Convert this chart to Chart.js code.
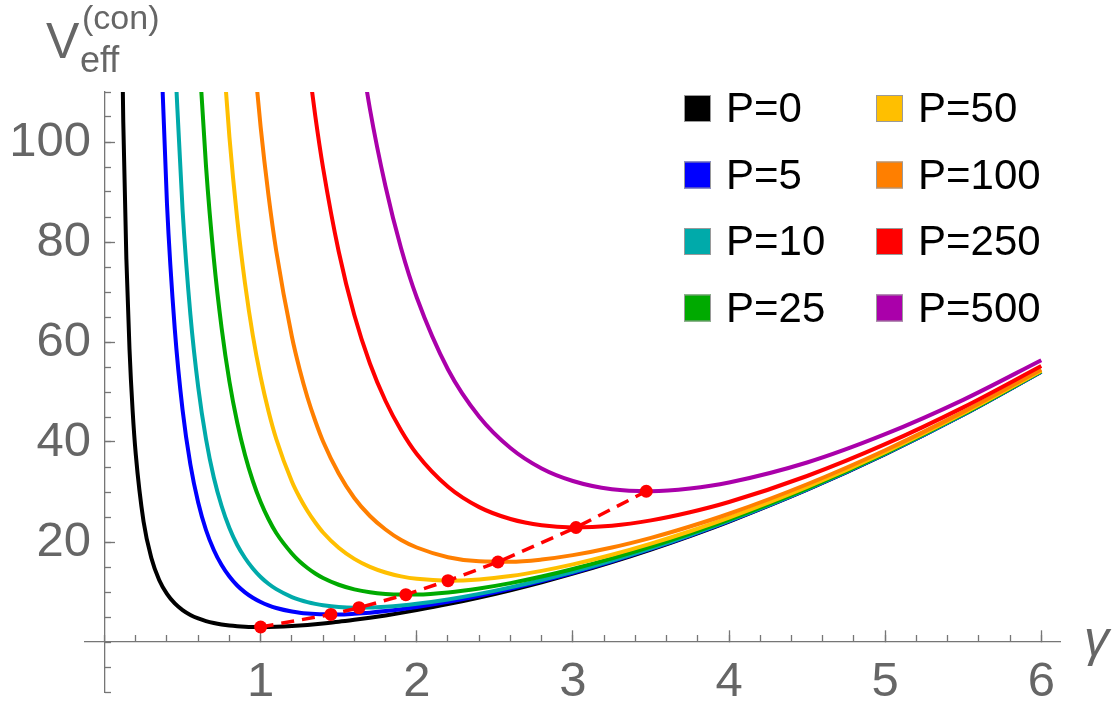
<!DOCTYPE html>
<html>
<head>
<meta charset="utf-8">
<title>V_eff^(con) vs gamma</title>
<script src="https://cdn.jsdelivr.net/npm/chart.js@4.4.1/dist/chart.umd.min.js"></script>
<style>
  html, body { margin: 0; padding: 0; background: #fff; }
  #wrap { width: 1112px; height: 712px; position: relative; }
</style>
</head>
<body>
<div id="wrap"><canvas id="chart"></canvas></div>
<script>
// gamma sample points shared by all curves
const gammaGrid = [0.10, 0.12, 0.14, 0.16, 0.18, 0.20, 0.25, 0.30, 0.35, 0.40, 0.45, 0.50, 0.55, 0.60,
    0.65, 0.70, 0.75, 0.80, 0.85, 0.90, 0.95, 1.00, 1.05, 1.10, 1.20, 1.25, 1.30, 1.35, 1.40, 1.50,
    1.60, 1.70, 1.80, 1.90, 2.00, 2.20, 2.40, 2.60, 2.80, 3.00, 3.25, 3.50, 3.75, 4.00, 4.50, 5.00,
    5.50, 6.00];

const seriesLabels = ['P=0', 'P=5', 'P=10', 'P=25', 'P=50', 'P=100', 'P=250', 'P=500'];
const seriesColors = ['#000000', '#0000ff', '#00aaaa', '#00aa00', '#ffbf00', '#ff7f00', '#ff0000', '#aa00aa'];

// index into gammaGrid where each curve comes into view (above that it is off the top)
const firstIndex = [0, 8, 10, 13, 16, 20, 26, 30];

const veffP0 = [150.0, 104.2, 76.6, 58.6, 46.3, 37.6, 24.1, 16.8, 12.4, 9.62, 7.71, 6.38, 5.41, 4.71,
    4.19, 3.80, 3.51, 3.30, 3.16, 3.07, 3.02, 3.00, 3.01, 3.05, 3.20, 3.30, 3.42, 3.56, 3.71, 4.04,
    4.43, 4.85, 5.32, 5.83, 6.38, 7.57, 8.90, 10.36, 11.95, 13.67, 15.99, 18.50, 21.20, 24.09, 30.45,
    37.56, 45.43, 54.04];
const veffP5 = [129.0, 87.7, 62.6, 46.4, 35.5, 27.9, 22.4, 18.4, 15.4, 13.1, 11.3, 9.93, 8.85, 8.00,
    7.33, 6.81, 6.09, 5.86, 5.70, 5.59, 5.53, 5.52, 5.65, 5.87, 6.18, 6.56, 7.00, 8.04, 9.26, 10.64,
    12.18, 13.86, 16.14, 18.62, 21.30, 24.17, 30.50, 37.60, 45.46, 54.06];
const veffP10 = [117.4, 86.4, 65.5, 51.0, 40.6, 32.9, 27.2, 22.8, 19.4, 16.8, 14.7, 13.0, 11.65, 10.57,
    8.99, 8.42, 7.97, 7.62, 7.35, 7.00, 6.87, 6.89, 7.04, 7.29, 7.63, 8.51, 9.62, 10.93, 12.41, 14.04,
    16.28, 18.73, 21.39, 24.25, 30.56, 37.64, 45.49, 54.09];
const veffP25 = [120.5, 95.2, 76.7, 62.8, 52.1, 43.9, 37.4, 32.2, 28.0, 24.6, 21.8, 17.7, 16.1, 14.8,
    13.7, 12.8, 11.45, 10.53, 9.94, 9.61, 9.48, 9.50, 9.92, 10.71, 11.78, 13.09, 14.60, 16.72, 19.08,
    21.68, 24.48, 30.72, 37.76, 45.58, 54.16];
const veffP50 = [122.0, 101.0, 84.6, 71.7, 61.3, 53.0, 46.2, 40.6, 32.1, 28.9, 26.2, 23.9, 21.9, 18.85,
    16.63, 15.03, 13.90, 13.12, 12.63, 12.27, 12.52, 13.20, 14.23, 15.52, 17.45, 19.67, 22.15, 24.87,
    31.00, 37.96, 45.73, 54.27];
const veffP100 = [119.6, 103.0, 89.4, 78.2, 61.1, 54.5, 48.9, 44.2, 40.1, 33.7, 28.8, 25.2, 22.5, 20.4,
    18.9, 16.96, 16.13, 16.05, 16.50, 17.37, 18.90, 20.83, 23.10, 25.65, 31.55, 38.36, 46.03, 54.50];
const veffP250 = [117.2, 105.2, 94.8, 78.1, 65.4, 55.7, 48.2, 42.3, 37.6, 31.05, 26.98, 24.60, 23.33,
    22.92, 23.27, 24.33, 25.95, 28.00, 33.20, 39.56, 46.93, 55.20];
const veffP500 = [126.5, 106.6, 91.1, 78.7, 68.9, 54.5, 45.05, 38.8, 34.7, 32.2, 30.54, 30.15, 30.70,
    31.90, 35.90, 41.56, 48.43, 56.35];

const veffSeries = [veffP0, veffP5, veffP10, veffP25, veffP50, veffP100, veffP250, veffP500];

// minimum of each curve (red dots joined by the dashed line)
const minGamma = [1.00, 1.45, 1.63, 1.93, 2.20, 2.52, 3.02, 3.47];
const minVeff = [3.00, 5.51, 6.86, 9.47, 12.27, 16.0, 22.9, 30.15];

// labelled tick values
const xTickValues = [1, 2, 3, 4, 5, 6];
const yTickValues = [20, 40, 60, 80, 100];

const axisColor = '#767676';
const labelColor = '#666666';
const fontFamily = '"Liberation Sans", Arial, sans-serif';

const datasets = veffSeries.map((vals, i) => ({
    label: seriesLabels[i],
    data: vals.map((v, k) => ({ x: gammaGrid[firstIndex[i] + k], y: v })),
    borderColor: seriesColors[i],
    borderWidth: 4,
    pointRadius: 0,
    cubicInterpolationMode: 'monotone',
    order: 8 - i
}));

datasets.push({
    label: 'minima',
    data: minGamma.map((g, i) => ({ x: g, y: minVeff[i] })),
    borderColor: '#ff0000',
    borderWidth: 3.5,
    borderDash: [13, 8],
    pointRadius: 6.5,
    pointBackgroundColor: '#ff0000',
    pointBorderWidth: 0,
    tension: 0,
    order: 0
});

// axis titles and the two-column legend
const decorations = {
    id: 'decorations',
    afterDraw(chart) {
        const ctx = chart.ctx;
        ctx.save();
        ctx.textAlign = 'left';
        ctx.textBaseline = 'alphabetic';
        ctx.fillStyle = labelColor;
        ctx.font = '50px ' + fontFamily;
        ctx.fillText('V', 46, 58);
        ctx.font = '36px ' + fontFamily;
        ctx.fillText('eff', 80, 72);
        ctx.font = '34px ' + fontFamily;
        ctx.fillText('(con)', 82, 29);
        ctx.font = 'italic 50px ' + fontFamily;
        ctx.fillText('γ', 1084, 656);

        ctx.font = '42px ' + fontFamily;
        seriesLabels.forEach((label, i) => {
            const col = Math.floor(i / 4);
            const row = i % 4;
            const sx = col === 0 ? 684 : 876;
            const tx = col === 0 ? 726 : 918;
            const base = 122 + row * 66.5;
            ctx.fillStyle = seriesColors[i];
            ctx.fillRect(sx, base - 27, 27, 27);
            ctx.strokeStyle = '#9a9a9a';
            ctx.lineWidth = 1;
            ctx.strokeRect(sx + 0.5, base - 26.5, 26, 26);
            ctx.fillStyle = '#000';
            ctx.fillText(label, tx, base);
        });
        ctx.restore();
    }
};

// axes sit inside the plot, so their label overhang must not shrink the plot area
const noOverhang = scale => {
    scale.paddingTop = 0;
    scale.paddingBottom = 0;
    scale.paddingLeft = 0;
    scale.paddingRight = 0;
};

const tickFont = { family: fontFamily, size: 49 };

new Chart(document.getElementById('chart'), {
    type: 'line',
    data: { datasets },
    options: {
        responsive: true,
        maintainAspectRatio: false,
        animation: false,
        events: [],
        layout: { autoPadding: false, padding: { left: 85, top: 92, right: 52, bottom: 20 } },
        plugins: {
            legend: { display: false },
            tooltip: { enabled: false }
        },
        scales: {
            x: {
                type: 'linear', axis: 'x',
                min: -0.125, max: 6.12,
                position: { y: 0 },
                afterBuildTicks: scale => { scale.ticks = xTickValues.map(v => ({ value: v })); },
                afterFit: noOverhang,
                border: { display: true, color: axisColor, width: 1.3 },
                grid: { drawOnChartArea: false, drawTicks: true, tickLength: -12, tickColor: axisColor, tickWidth: 1.3 },
                ticks: {
                    autoSkip: false, maxRotation: 0,
                    padding: 23, color: labelColor, font: tickFont
                }
            },
            xMinor: {
                type: 'linear', axis: 'x',
                min: -0.125, max: 6.12,
                position: { y: 0 },
                afterFit: noOverhang,
                border: { display: false },
                grid: { drawOnChartArea: false, drawTicks: true, tickLength: -7, tickColor: axisColor, tickWidth: 1.3 },
                ticks: { stepSize: 0.2, includeBounds: false, autoSkip: false, display: false }
            },
            y: {
                type: 'linear', axis: 'y',
                min: -10, max: 110,
                position: { x: 0 },
                afterBuildTicks: scale => { scale.ticks = yTickValues.map(v => ({ value: v })); },
                afterFit: noOverhang,
                border: { display: true, color: axisColor, width: 1.3 },
                grid: { drawOnChartArea: false, drawTicks: true, tickLength: -11, tickColor: axisColor, tickWidth: 1.3 },
                ticks: {
                    autoSkip: false,
                    color: labelColor, font: tickFont,
                    callback: v => v + ' '
                }
            },
            yMinor: {
                type: 'linear', axis: 'y',
                min: -10, max: 110,
                position: { x: 0 },
                afterFit: noOverhang,
                border: { display: false },
                grid: { drawOnChartArea: false, drawTicks: true, tickLength: -6, tickColor: axisColor, tickWidth: 1.3 },
                ticks: { stepSize: 5, includeBounds: true, autoSkip: false, display: false }
            }
        }
    },
    plugins: [decorations]
});
</script>
</body>
</html>
